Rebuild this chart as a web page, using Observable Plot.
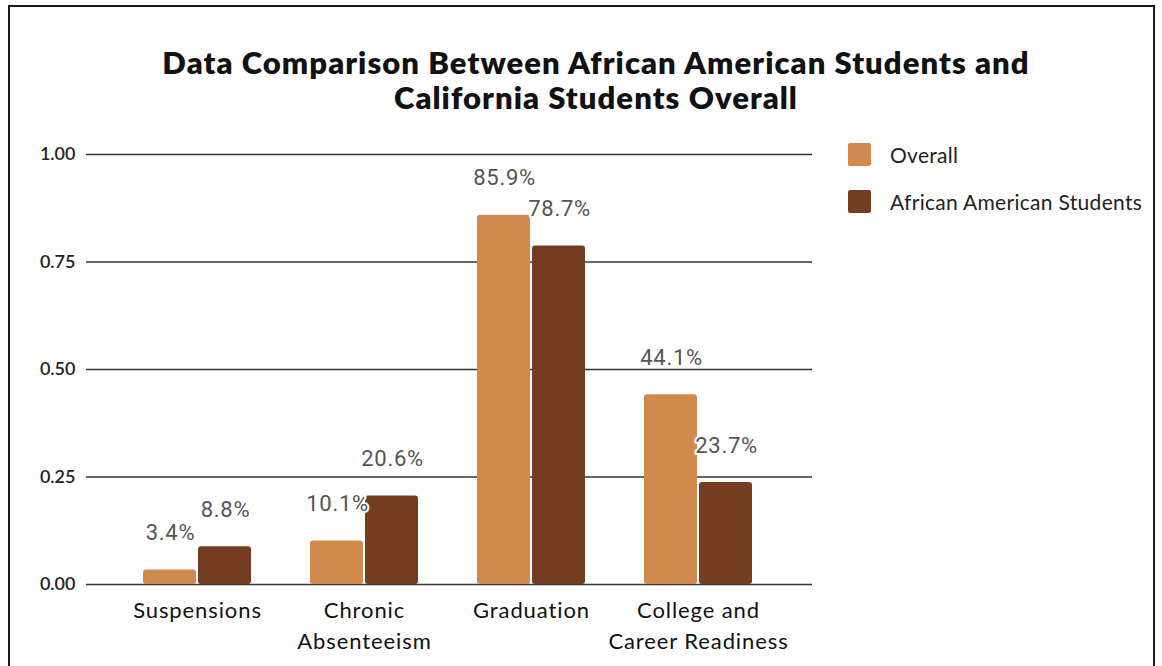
<!DOCTYPE html>
<html>
<head>
<meta charset="utf-8">
<script src="https://cdn.jsdelivr.net/npm/d3@7"></script>
<script src="https://cdn.jsdelivr.net/npm/@observablehq/plot@0.6"></script>
<style>
  html, body { margin: 0; padding: 0; background: #fff; }
  #wrap { position: relative; width: 1162px; height: 666px; overflow: hidden; background: #fff; font-family: Lato, "Noto Sans", sans-serif; }
  #frame { position: absolute; left: 8px; top: 5px; width: 1147px; height: 700px; border: 2px solid #1a1a1a; box-sizing: border-box; }
  #title { position: absolute; left: 96px; width: 1000px; top: 45px; text-align: center; font-weight: 800; font-size: 31px; letter-spacing: 1.05px; line-height: 35px; color: #111; }
  .leg { position: absolute; left: 848px; display: flex; align-items: center; font-size: 21px; letter-spacing: 0.3px; color: #222; }
  .sw { width: 23px; height: 23px; border-radius: 2px; margin-right: 19px; }
  #chart { position: absolute; left: 0; top: 0; }
  #chart g[aria-label="text"] text { letter-spacing: 0.7px; }
  #chart g[aria-label="x-axis tick label"] text { letter-spacing: 0.9px; }
</style>
</head>
<body>
<div id="wrap">
  <div id="chart"></div>
  <div id="frame"></div>
  <div id="title">Data Comparison Between African American Students and<br>California Students Overall</div>
  <div id="legend"></div>
</div>
<script>
const categories = ["Suspensions", "Chronic Absenteeism", "Graduation", "College and Career Readiness"];
const tickLabels = ["Suspensions", "Chronic\nAbsenteeism", "Graduation", "College and\nCareer Readiness"];
const seriesNames = ["Overall", "African American Students"];
const seriesColors = ["#d08a4e", "#743d22"];
const overallValues = [0.034, 0.101, 0.859, 0.441];
const africanAmericanValues = [0.088, 0.206, 0.787, 0.237];
const yTicks = [0, 0.25, 0.5, 0.75, 1];

const overallData = categories.map((c, i) => ({category: c, value: overallValues[i]}));
const aaData = categories.map((c, i) => ({category: c, value: africanAmericanValues[i]}));
const labelOf = new Map(categories.map((c, i) => [c, tickLabels[i]]));
const pct = d3.format(".1%");

const chart = Plot.plot({
  width: 1162,
  height: 666,
  marginTop: 154,
  marginBottom: 82,
  marginLeft: 86,
  marginRight: 350,
  style: {fontFamily: "Lato, 'Noto Sans', sans-serif", background: "transparent", color: "#222", overflow: "visible"},
  x: {domain: categories, paddingInner: 0.355, paddingOuter: 0.347, align: 0.485, label: null},
  y: {domain: [0, 1], label: null},
  marks: [
    Plot.ruleY(yTicks, {stroke: "#333", strokeWidth: 1.4}),
    Plot.axisY({ticks: yTicks, tickFormat: d3.format(".2f"), tickSize: 0, tickPadding: 11, fontSize: 18, fontWeight: 600, fill: "#222", label: null}),
    Plot.axisX({tickSize: 0, tickPadding: 11, fontSize: 22, lineHeight: 1.41, fill: "#111", tickFormat: d => labelOf.get(d), label: null}),
    Plot.barY(overallData, {x: "category", y: "value", fill: seriesColors[0], insetRight: 55, rx: 3}),
    Plot.barY(aaData, {x: "category", y: "value", fill: seriesColors[1], insetLeft: 55, rx: 3}),
    Plot.text(overallData, {x: "category", y: "value", text: d => pct(d.value), dx: -27, dy: -37, fontSize: 22, fontFamily: "Roboto, sans-serif", fill: "#555", stroke: "white", strokeWidth: 4}),
    Plot.text(aaData, {x: "category", y: "value", text: d => pct(d.value), dx: 28, dy: -37, fontSize: 22, fontFamily: "Roboto, sans-serif", fill: "#555", stroke: "white", strokeWidth: 4})
  ]
});
document.getElementById("chart").appendChild(chart);

const legend = document.getElementById("legend");
const legendTops = [142, 189];
seriesNames.forEach((name, i) => {
  const item = document.createElement("div");
  item.className = "leg";
  item.style.top = legendTops[i] + "px";
  const sw = document.createElement("div");
  sw.className = "sw";
  sw.style.background = seriesColors[i];
  const t = document.createElement("span");
  t.textContent = name;
  item.appendChild(sw);
  item.appendChild(t);
  legend.appendChild(item);
});
</script>
</body>
</html>
